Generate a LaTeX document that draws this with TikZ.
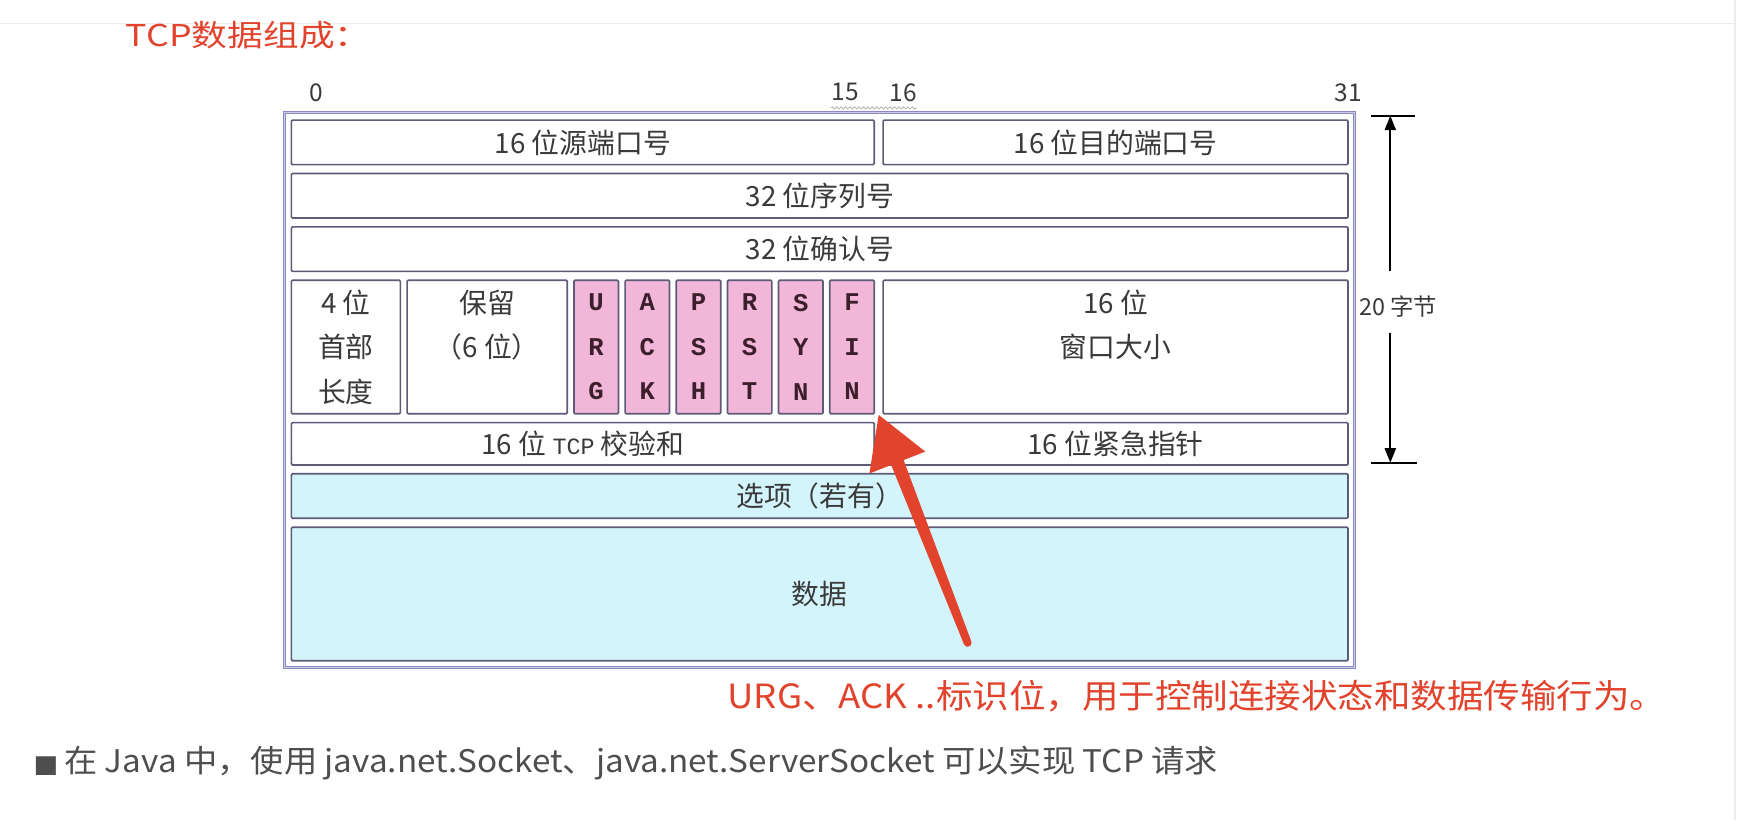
\documentclass[tikz,border=0pt]{standalone}
\usepackage{graphicx}
\usepackage{fontspec}
\setmainfont{Noto Sans CJK SC}
\newfontfamily\flagfont{Liberation Mono}
\newfontfamily\symfont{DejaVu Sans}
\usetikzlibrary{arrows.meta,decorations.pathmorphing}
\definecolor{boxline}{HTML}{5C5C78}
\definecolor{frameline}{HTML}{8A8AC0}
\definecolor{framein}{HTML}{CCCCE8}
\definecolor{flagpink}{HTML}{F2B6D9}
\definecolor{flagtxt}{HTML}{3B1F2B}
\definecolor{optcyan}{HTML}{D4F4FB}
\definecolor{txt}{HTML}{3A3A3A}
\definecolor{redtxt}{HTML}{E2432D}
\definecolor{graytxt}{HTML}{4E4E4E}
\definecolor{pageline}{HTML}{ECECEC}
\begin{document}
\begin{tikzpicture}[x=1pt,y=-1pt,
  field/.style={draw=boxline, line width=1.5pt, rounded corners=1pt, fill=white,
    inner sep=0pt, text=txt, font=\fontsize{25}{40}\selectfont, align=center},
  flagbox/.style={field, fill=flagpink, minimum width=40pt, minimum height=120pt,
    text=flagtxt, font=\flagfont\bfseries\fontsize{23}{40}\selectfont},
  optbox/.style={field, fill=optcyan},
  bitnum/.style={text=txt, font=\fontsize{22}{22}\selectfont, inner sep=0pt},
  dimline/.style={line width=1.6pt, black},
  dimarrow/.style={dimline, -{Triangle[length=13pt,width=10pt]}},
  plain/.style={inner sep=0pt, anchor=west}
]
\useasboundingbox[fill=white] (0,0) rectangle (1568,737.3);
% page lines
\draw[pageline, line width=1pt] (0,21) -- (1560,21);
\draw[pageline, line width=1.2pt] (1560,0) -- (1560,737.3);

% title
\node[plain, text=redtxt] (title) at (113,32)
  {\resizebox{220pt}{\height}{\fontsize{27}{27}\selectfont TCP数据组成：}};

% bit numbers
\node[bitnum] (b0) at (284,83) {0};
\node[bitnum] (b15) at (760,83) {15};
\node[bitnum] (b16) at (812,83) {16};
\node[bitnum] (b31) at (1212,83) {31};
\coordinate (wav1) at (747,97);
\coordinate (wav2) at (824,97);
\draw[gray!55, line width=0.8pt, decorate, decoration={snake,amplitude=1pt,segment length=4pt}] (wav1) -- (wav2);

% outer frame
\node[draw=frameline, double=framein, double distance=1pt, line width=0.9pt,
  minimum width=962pt, minimum height=499pt, inner sep=0pt] (frame) at (737,350.5) {};

% rows
\node[field, minimum width=524pt, minimum height=40pt] (src) at (524,128) {16 位源端口号};
\node[field, minimum width=418pt, minimum height=40pt] (dst) at (1003,128) {16 位目的端口号};
\node[field, minimum width=950pt, minimum height=40pt] (seq) at (737,176) {32 位序列号};
\node[field, minimum width=950pt, minimum height=40pt] (ack) at (737,224) {32 位确认号};

\node[field, minimum width=98pt, minimum height=120pt] (hlen) at (311,312) {4 位\\首部\\长度};
\node[field, minimum width=144pt, minimum height=120pt] (rsv) at (438,312) {保留\\（6 位）\\\phantom{保留}};
\node[flagbox] (furg) at (536,312) {U\\R\\G};
\node[flagbox] (fack) at (582,312) {A\\C\\K};
\node[flagbox] (fpsh) at (628,312) {P\\S\\H};
\node[flagbox] (frst) at (674,312) {R\\S\\T};
\node[flagbox] (fsyn) at (720,312) {S\\Y\\N};
\node[flagbox] (ffin) at (766,312) {F\\I\\N};
\node[field, minimum width=418pt, minimum height=120pt] (win) at (1003,312) {16 位\\窗口大小\\\phantom{窗口}};

\node[field, minimum width=524pt, minimum height=38pt] (chk) at (524,399)
  {16 位 {\flagfont\fontsize{21}{21}\selectfont TCP} 校验和};
\node[field, minimum width=418pt, minimum height=38pt] (urgp) at (1003,399) {16 位紧急指针};
\node[optbox, minimum width=950pt, minimum height=40pt] (opt) at (737,446) {选项（若有）};
\node[optbox, minimum width=950pt, minimum height=120pt] (data) at (737,534) {数据};

% dimension 20 bytes
\coordinate (tt1) at (1233,104);
\coordinate (tt2) at (1272,104);
\coordinate (bt1) at (1233,416);
\coordinate (bt2) at (1274,416);
\coordinate (dimtop) at (1250,104);
\coordinate (dimbot) at (1250,416);
\coordinate (up0) at (1250,244);
\coordinate (dn0) at (1250,299);
\node[inner sep=0pt, text=txt, font=\fontsize{21}{21}\selectfont] (bytes) at (1257,276) {20 字节};
\draw[dimline] (tt1) -- (tt2);
\draw[dimline] (bt1) -- (bt2);
\draw[dimarrow] (up0) -- (dimtop);
\draw[dimarrow] (dn0) -- (dimbot);

% red hand-drawn arrow pointing at the flags
\fill[redtxt] (790,373) -- (831.9,406.0) -- (812.4,413.6) -- (873.3,576.7)
  -- (866.7,579.3) -- (801.2,418.0) -- (781.7,425.7) -- cycle;
\fill[redtxt] (870,578) circle (3.5);

% notes
\node[plain, text=redtxt] (note) at (654,626)
  {\resizebox{844pt}{\height}{\fontsize{30}{30}\selectfont URG、ACK ..标识位，用于控制连接状态和数据传输行为。}};
\node[plain, text=graytxt] (java) at (30,686)
  {\resizebox{1065pt}{\height}{\fontsize{28}{28}\selectfont{\symfont\fontsize{22}{22}\selectfont ■}\hspace{5pt}在 Java 中，使用 java.net.Socket、java.net.ServerSocket 可以实现 TCP 请求}};
\end{tikzpicture}
\end{document}
